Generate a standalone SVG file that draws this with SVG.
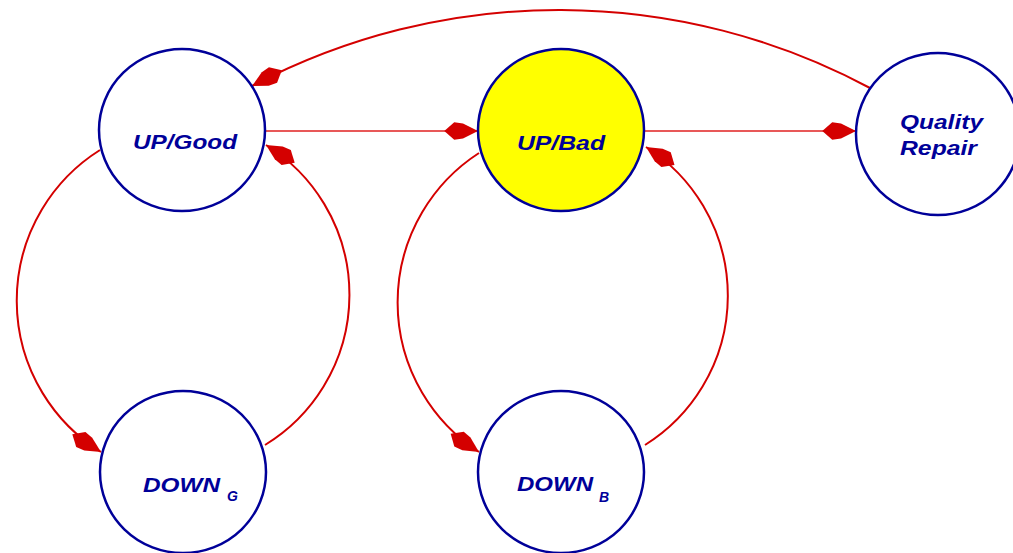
<svg xmlns="http://www.w3.org/2000/svg" width="1013" height="553" viewBox="0 0 1013 553">
<style>
.node{fill:#ffffff;stroke:#000099;stroke-width:2.5}
.hl{fill:#ffff00}
.lbl{font-family:"Liberation Sans",Arial,sans-serif;font-weight:bold;font-style:italic;font-size:21px;fill:#000099}
.sub{font-size:14px}
.edge{fill:none;stroke:#d40000;stroke-width:2}
.thin{stroke:#e02020;stroke-width:1.5}
</style>
<defs>
<marker id="kite" markerUnits="userSpaceOnUse" markerWidth="40" markerHeight="20" viewBox="-30 -8 31 16" refX="0" refY="0" orient="auto">
<path d="M0,0 L-12,-6 L-19,-7 L-27,0 L-19,7 L-12,6 Z" fill="#d40000"/>
</marker>
</defs>
<rect width="1013" height="553" fill="#ffffff"/>
<g id="connectors">
<line class="edge thin" x1="265" y1="131" x2="478" y2="131" marker-end="url(#kite)"/>
<line class="edge thin" x1="644" y1="131" x2="856" y2="131" marker-end="url(#kite)"/>
<path class="edge" d="M870,88 A658,658 0 0 0 252,86" marker-end="url(#kite)"/>
<path class="edge" d="M100,150 A178,178 0 0 0 101,452" marker-end="url(#kite)"/>
<path class="edge" d="M265,445 A176,176 0 0 0 266,145" marker-end="url(#kite)"/>
<path class="edge" d="M479,153 A178,178 0 0 0 479,452" marker-end="url(#kite)"/>
<path class="edge" d="M645,445 A176,176 0 0 0 646,147" marker-end="url(#kite)"/>
</g>
<g id="up-good">
<ellipse class="node" cx="182" cy="130" rx="83" ry="81"/>
<text class="lbl" x="133" y="149" textLength="104" lengthAdjust="spacingAndGlyphs">UP/Good</text>
</g>
<g id="up-bad">
<ellipse class="node hl" cx="561" cy="130" rx="83" ry="81"/>
<text class="lbl" x="517" y="150" textLength="88" lengthAdjust="spacingAndGlyphs">UP/Bad</text>
</g>
<g id="quality-repair">
<ellipse class="node" cx="938" cy="134" rx="82" ry="81"/>
<text class="lbl" x="900" y="129" textLength="83" lengthAdjust="spacingAndGlyphs">Quality</text>
<text class="lbl" x="900" y="155" textLength="77" lengthAdjust="spacingAndGlyphs">Repair</text>
</g>
<g id="down-g">
<ellipse class="node" cx="183" cy="472" rx="83" ry="81"/>
<text class="lbl"><tspan x="143" y="492" textLength="77" lengthAdjust="spacingAndGlyphs">DOWN</tspan><tspan class="sub" x="227" y="501">G</tspan></text>
</g>
<g id="down-b">
<ellipse class="node" cx="561" cy="472" rx="83" ry="81"/>
<text class="lbl"><tspan x="517" y="491" textLength="76" lengthAdjust="spacingAndGlyphs">DOWN</tspan><tspan class="sub" x="599" y="502">B</tspan></text>
</g>
</svg>
